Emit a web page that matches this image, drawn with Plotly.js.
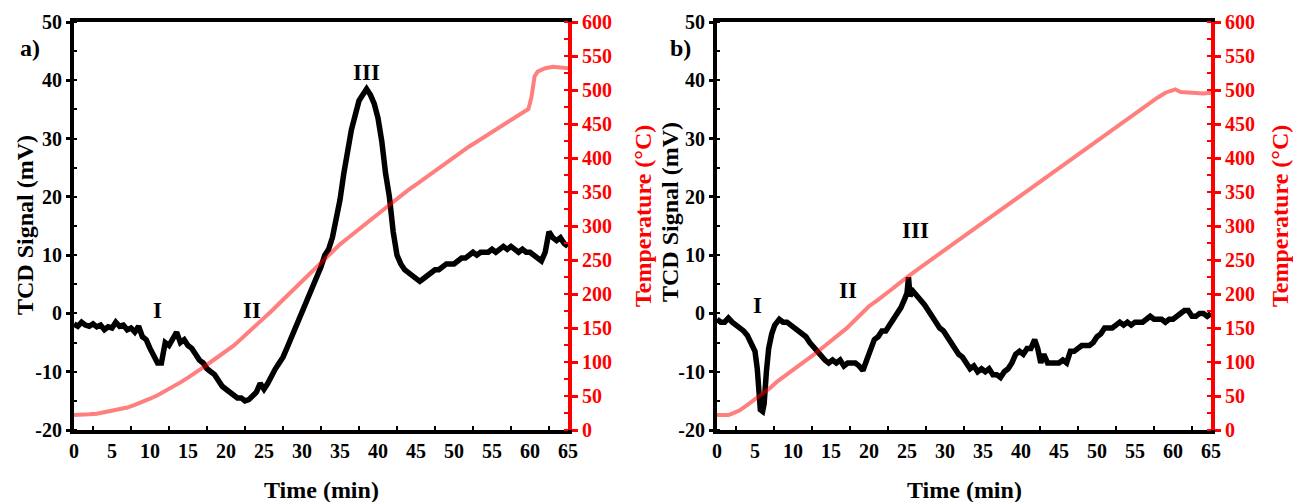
<!DOCTYPE html>
<html>
<head>
<meta charset="utf-8">
<script src="https://cdn.plot.ly/plotly-3.0.1.min.js"></script>
<style>html,body{margin:0;padding:0;background:#fff;}#chart{width:1293px;height:502px;}</style>
</head>
<body>
<div id="chart"></div>
<script>
// ---- Panel a) data ----
const timeA_tcd = [0,0.5,1,1.5,2,2.5,3,3.5,4,4.5,5,5.5,6,6.5,7,7.5,8,8.5,9,9.5,10,10.5,11,11.5,12,12.5,13,13.5,14,14.5,15,15.5,16,16.5,17,17.5,18,18.5,19,19.5,20,20.5,21,21.5,22,22.5,23,23.5,24,24.5,25,25.5,26,26.5,27,27.5,28,28.5,29,29.5,30,30.5,31,31.5,32,32.5,33,33.5,34,34.5,35,35.5,36,36.5,37,37.5,38,38.5,39,39.5,40,40.5,41,41.5,42,42.5,43,43.5,44,44.5,45,45.5,46,46.5,47,47.5,48,48.5,49,49.5,50,50.5,51,51.5,52,52.5,53,53.5,54,54.5,55,55.5,56,56.5,57,57.5,58,58.5,59,59.5,60,60.5,61,61.5,62,62.5,63,63.5,64,64.5,65];
const tcdA = [-1.8,-2.2,-1.5,-2.0,-2.2,-1.8,-2.3,-2.0,-2.8,-2.3,-2.5,-1.5,-2.2,-2.0,-2.8,-2.5,-3.2,-2.2,-4.0,-4.5,-6.0,-7.5,-8.5,-8.5,-5.0,-5.5,-4.2,-3.2,-5.0,-4.5,-5.5,-6.0,-7.0,-8.0,-8.5,-9.5,-10.0,-10.5,-11.5,-12.5,-13.0,-13.5,-14.0,-14.5,-14.5,-15.0,-14.8,-14.0,-13.5,-12.0,-13.0,-12.0,-10.5,-9.5,-8.5,-7.5,-6.0,-4.5,-3.0,-1.5,0.0,1.5,3.0,4.5,6.5,8.0,10.0,11.0,13.0,16.0,19.5,24.0,28.0,31.5,34.0,36.5,37.5,38.5,37.5,36.0,33.5,29.5,24.0,20.0,14.0,10.0,8.5,7.5,7.0,6.5,6.0,5.5,6.0,6.5,7.0,7.5,7.5,8.0,8.5,8.5,8.5,9.0,9.5,9.5,10.0,10.5,10.0,10.5,10.5,10.5,11.0,10.5,11.0,11.5,11.0,11.5,11.0,10.5,11.0,10.5,10.5,10.0,9.5,9.0,10.5,14.0,13.0,12.5,13.0,12.0,11.5];
const timeA_temp = [0,1,2,3,4,5,6,7,8,9,10,11,12,13,14,15,16,17,18,19,20,21,22,23,24,25,26,27,28,29,30,31,32,33,34,35,36,37,38,39,40,41,42,43,44,45,46,47,48,49,50,51,52,53,54,55,56,57,58,59,59.8,60.2,60.6,61,61.5,62,63,64,65];
const tempA = [22,22,23,24,26,28,30,33,37,41,46,51,57,63,70,77,84,92,100,108,116,124,134,144,154,164,175,186,197,208,219,230,241,252,264,273,282,291,300,309,318,327,336,344,353,361,369,378,386,394,402,409,417,424,431,438,445,452,459,465,472,490,520,527,530,532,534,533,532];

// ---- Panel b) data ----
const timeB_tcd = [0,0.5,1,1.5,2,2.5,3,3.5,4,4.5,5,5.3,5.5,5.7,6.0,6.2,6.5,6.8,7.2,7.6,8.2,8.7,9.2,9.7,10.2,10.7,11.2,11.7,12.2,12.7,13.2,13.7,14.2,14.7,15.2,15.7,16.2,16.7,17.2,17.7,18.2,18.7,19.2,19.7,20.2,20.7,21.2,21.7,22.2,22.7,23.2,23.7,24.2,24.7,25.0,25.2,25.4,25.8,26.3,26.8,27.3,27.8,28.3,28.8,29.3,29.8,30.3,30.8,31.3,31.8,32.3,32.8,33.3,33.8,34.3,34.8,35.3,35.8,36.3,36.8,37.3,37.8,38.3,38.8,39.3,39.8,40.3,40.8,41.3,41.8,42.2,42.6,43.0,43.5,44.0,44.5,45.0,45.5,46.0,46.5,47.0,47.5,48.0,48.5,49.0,49.5,50.0,50.5,51.0,51.5,52.0,52.5,53.0,53.5,54.0,54.5,55.0,55.5,56.0,56.5,57.0,57.5,58.0,58.5,59.0,59.5,60.0,60.5,61.0,61.5,62.0,62.5,63.0,63.5,64.0,64.5,65.0];
const tcdB = [-1.0,-1.5,-1.5,-0.8,-1.5,-2.0,-2.5,-3.0,-3.8,-5.0,-6.5,-9.5,-14.0,-16.5,-16.8,-15.5,-10.0,-6.0,-3.5,-2.0,-1.0,-1.5,-1.5,-2.0,-2.5,-2.8,-3.5,-4.0,-5.0,-5.8,-6.5,-7.5,-8.0,-8.5,-8.0,-8.5,-8.0,-9.0,-8.5,-8.5,-8.5,-9.0,-9.8,-8.0,-6.5,-4.5,-4.0,-3.0,-3.0,-2.0,-1.0,0.0,1.0,2.5,3.5,6.2,3.0,3.8,3.0,2.5,1.5,0.5,-0.5,-1.5,-2.5,-3.0,-4.0,-5.0,-6.0,-7.0,-7.5,-8.5,-9.5,-9.0,-10.0,-9.5,-10.0,-9.5,-10.5,-10.5,-11.0,-10.0,-9.5,-8.5,-7.0,-6.5,-7.0,-6.0,-6.0,-4.5,-6.0,-8.5,-7.0,-8.5,-8.5,-8.5,-8.5,-8.0,-8.5,-6.5,-6.5,-6.0,-5.5,-5.5,-5.5,-5.0,-4.0,-3.5,-2.5,-2.5,-2.5,-2.0,-1.5,-2.0,-1.5,-2.0,-1.5,-1.5,-1.5,-1.0,-0.5,-1.0,-1.0,-1.0,-1.5,-1.0,-1.0,-0.5,0.0,0.5,0.5,-0.5,-0.5,0.0,0.0,-0.5,0.0];
const timeB_temp = [0,1,1.5,2,3,4,5,6,7,8,9,10,11,12,13,14,15,16,17,18,19,20,21,22,23,24,25,26,27,28,29,30,31,32,33,34,35,36,37,38,39,40,41,42,43,44,45,46,47,48,49,50,51,52,53,54,55,56,57,58,59,60,60.3,61,62,63,64,65];
const tempB = [22,22,22,24,29,37,45,53,62,72,80,88,96,104,113,122,131,140,149,160,172,182,190,198,207,216,225,233,241,249,257,266,274,282,290,298,306,314,321,329,337,345,353,361,369,377,385,393,401,409,417,425,433,441,449,457,465,473,481,489,496,500,501,497,496,495,495,496];

// ---- tick labels (hyphen minus as in the original) ----
const yLeftTickVals = [-20,-10,0,10,20,30,40,50];
const yLeftTickText = ['-20','-10','0','10','20','30','40','50'];

// ---- labels ----
const xTitle = 'Time (min)';
const yLeftTitle = 'TCD Signal (mV)';
const yRightTitle = 'Temperature (°C)';
const panelLabels = ['a)', 'b)'];
const peakLabelsA = [{t:'I', x:11.0, y:0.5}, {t:'II', x:23.4, y:0.5}, {t:'III', x:38.5, y:41.3}];
const peakLabelsB = [{t:'I', x:5.3, y:1.4}, {t:'II', x:17.2, y:3.9}, {t:'III', x:26.1, y:14.2}];

const FAM = 'Liberation Serif, Times New Roman, serif';
const black = '#000000';
const red = '#ff0000';
const tempColor = 'rgba(255,0,0,0.5)';

function tf(size, color) { return {family: FAM, size: size, color: color, weight: 700}; }

const traces = [
  {x: timeA_tcd, y: tcdA, xaxis: 'x', yaxis: 'y', mode: 'lines', line: {color: black, width: 5.5}, showlegend: false},
  {x: timeA_temp, y: tempA, xaxis: 'x', yaxis: 'y2', mode: 'lines', line: {color: tempColor, width: 4}, showlegend: false},
  {x: timeB_tcd, y: tcdB, xaxis: 'x2', yaxis: 'y3', mode: 'lines', line: {color: black, width: 5.5}, showlegend: false},
  {x: timeB_temp, y: tempB, xaxis: 'x2', yaxis: 'y4', mode: 'lines', line: {color: tempColor, width: 4}, showlegend: false}
];

const W = 1293, H = 502;
const domA = [74 / W, 568 / W];
const domB = [717 / W, 1211 / W];
const domY = [72 / H, 480 / H];

// x axis carrying labels, axis line and minor ticks
function xax(dom, anchor) {
  return {
    domain: dom, anchor: anchor, range: [0, 65], dtick: 5, tick0: 0,
    showline: true, linewidth: 4, linecolor: black, mirror: true,
    ticks: '',
    minor: {dtick: 2.5, ticks: 'inside', ticklen: 4, tickwidth: 2, tickcolor: black},
    showgrid: false, zeroline: false,
    tickfont: tf(20, black)
  };
}
// overlay x axis carrying only the outside major tick marks
function xTicksOnly(over, anchor) {
  return {
    overlaying: over, matches: over, anchor: anchor, range: [0, 65], dtick: 5, tick0: 0,
    showline: false, showticklabels: false,
    ticks: 'outside', ticklen: 6, tickwidth: 3, tickcolor: black,
    showgrid: false, zeroline: false
  };
}
function yl(dom, anchor) {
  return {
    domain: dom, anchor: anchor, range: [-20, 50],
    tickmode: 'array', tickvals: yLeftTickVals, ticktext: yLeftTickText,
    showline: true, linewidth: 4, linecolor: black,
    ticks: 'outside', ticklen: 4, tickwidth: 3, tickcolor: black,
    minor: {dtick: 5, ticks: 'inside', ticklen: 3, tickwidth: 2, tickcolor: black},
    showgrid: false, zeroline: false,
    tickfont: tf(20, black)
  };
}
function yr(over, anchor) {
  return {
    overlaying: over, anchor: anchor, side: 'right', range: [0, 600], dtick: 50, tick0: 0,
    showline: true, linewidth: 4, linecolor: red,
    ticks: 'outside', ticklen: 6, tickwidth: 3, tickcolor: red,
    minor: {dtick: 25, ticks: 'inside', ticklen: 4, tickwidth: 2, tickcolor: red},
    showgrid: false, zeroline: false,
    tickfont: tf(20, red)
  };
}

function paperText(text, px, py, size, color, angle) {
  return {text: text, xref: 'paper', yref: 'paper', x: px / W, y: 1 - py / H,
          showarrow: false, font: tf(size, color), textangle: angle || 0,
          xanchor: 'center', yanchor: 'middle'};
}

const annotations = [];
// axis titles
annotations.push(paperText(xTitle, 321, 490, 24, black));
annotations.push(paperText(xTitle, 964, 490, 24, black));
annotations.push(paperText(yLeftTitle, 25, 225, 24, black, -90));
annotations.push(paperText(yLeftTitle, 670, 212, 24, black, -90));
annotations.push(paperText(yRightTitle, 643, 216, 24, red, -90));
annotations.push(paperText(yRightTitle, 1280, 216, 24, red, -90));
// panel labels
annotations.push(paperText(panelLabels[0], 30, 48, 24, black));
annotations.push(paperText(panelLabels[1], 680, 48, 24, black));
peakLabelsA.forEach(p => annotations.push({text: p.t, xref: 'x', yref: 'y', x: p.x, y: p.y, showarrow: false, font: tf(23, black), xanchor: 'center', yanchor: 'middle'}));
peakLabelsB.forEach(p => annotations.push({text: p.t, xref: 'x2', yref: 'y3', x: p.x, y: p.y, showarrow: false, font: tf(23, black), xanchor: 'center', yanchor: 'middle'}));

const layout = {
  width: W, height: H,
  margin: {l: 0, r: 0, t: 0, b: 0, autoexpand: false},
  paper_bgcolor: '#ffffff', plot_bgcolor: '#ffffff',
  showlegend: false,
  font: {family: FAM},
  xaxis: xax(domA, 'y'),
  yaxis: yl(domY, 'x'),
  yaxis2: yr('y', 'x'),
  xaxis2: xax(domB, 'y3'),
  yaxis3: yl(domY, 'x2'),
  yaxis4: yr('y3', 'x2'),
  xaxis3: xTicksOnly('x', 'y'),
  xaxis4: xTicksOnly('x2', 'y3'),
  annotations: annotations
};

Plotly.newPlot('chart', traces, layout, {staticPlot: true, displayModeBar: false});
</script>
</body>
</html>
